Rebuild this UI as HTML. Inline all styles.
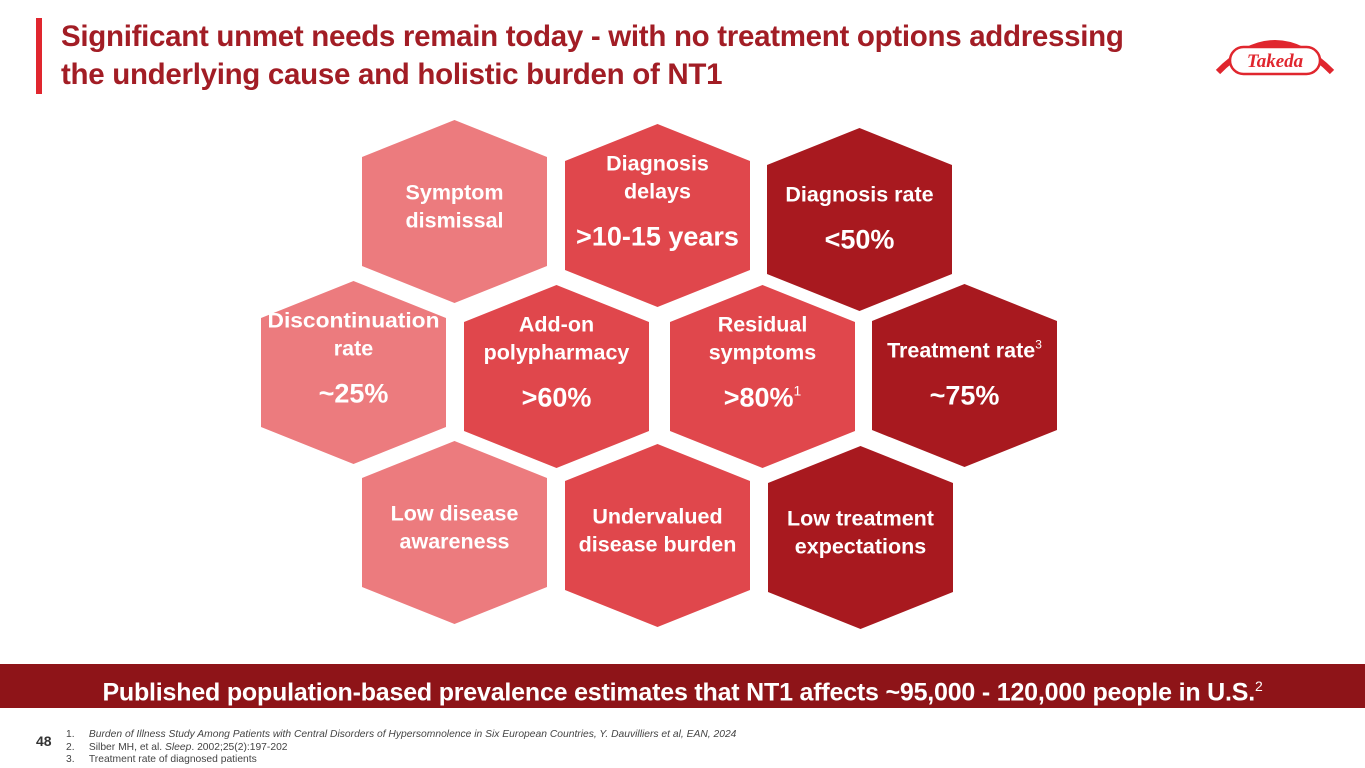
<!DOCTYPE html>
<html><head><meta charset="utf-8"><style>
body{margin:0;width:1365px;height:768px;background:#fff;font-family:"Liberation Sans",sans-serif;overflow:hidden;position:relative}
.t{position:absolute;left:61px;top:18px;font-size:29.5px;font-weight:bold;color:#A21D25;line-height:38px;letter-spacing:-0.3px;white-space:nowrap}
</style></head><body>
<div style="position:absolute;left:36px;top:18px;width:6px;height:76px;background:#E0262E"></div>
<div class="t">Significant unmet needs remain today - with no treatment options addressing<br>the underlying cause and holistic burden of NT1</div>
<svg style="position:absolute;left:1212px;top:28px" width="126" height="50" viewBox="0 0 126 50">
<path d="M6 44 Q63 -14 120 44" fill="none" stroke="#E0262E" stroke-width="6"/>
<rect x="18" y="19" width="90" height="27" rx="13.5" fill="#fff" stroke="#E0262E" stroke-width="2.5"/>
<text x="63" y="39" text-anchor="middle" font-family="Liberation Serif" font-style="italic" font-weight="bold" font-size="19" fill="#E0262E">Takeda</text>
</svg>
<svg id="hex" style="position:absolute;left:0;top:0" width="1365" height="660"></svg>
<div style="position:absolute;left:0;top:664px;width:1365px;height:44px;background:#8E1418;color:#fff;font-weight:bold;font-size:25px;line-height:44px;text-align:center;white-space:nowrap;letter-spacing:-0.2px">Published population-based prevalence estimates that NT1 affects ~95,000 - 120,000 people in U.S.<sup style="font-size:14px;font-weight:normal">2</sup></div>
<div style="position:absolute;left:36px;top:733px;font-size:14px;font-weight:bold;color:#333">48</div>
<div style="position:absolute;left:66px;top:729px;font-size:10.3px;line-height:12.5px;color:#444;white-space:nowrap">
<div>1.&nbsp;&nbsp;&nbsp;&nbsp;&nbsp;<i>Burden of Illness Study Among Patients with Central Disorders of Hypersomnolence in Six European Countries, Y. Dauvilliers et al, EAN, 2024</i></div>
<div>2.&nbsp;&nbsp;&nbsp;&nbsp;&nbsp;Silber MH, et al. <i>Sleep</i>. 2002;25(2):197-202</div>
<div>3.&nbsp;&nbsp;&nbsp;&nbsp;&nbsp;Treatment rate of diagnosed patients</div>
</div>
<script>
const L='#EC7B7E',M='#E0474C',D='#A8191F';
const hexes=[
{x:362,y:120,c:L,n:'symptom-dismissal',lines:['Symptom','dismissal'],v:''},
{x:565,y:124,c:M,n:'diagnosis-delays',lines:['Diagnosis','delays'],v:'>10-15 years'},
{x:767,y:128,c:D,n:'diagnosis-rate',lines:['Diagnosis rate'],v:'<50%'},
{x:261,y:281,c:L,n:'discontinuation-rate',lines:['Discontinuation','rate'],v:'~25%'},
{x:464,y:285,c:M,n:'add-on-polypharmacy',lines:['Add-on','polypharmacy'],v:'>60%'},
{x:670,y:285,c:M,n:'residual-symptoms',lines:['Residual','symptoms'],v:'>80%',vs:'1'},
{x:872,y:284,c:D,n:'treatment-rate',lines:['Treatment rate'],ls:'3',v:'~75%'},
{x:362,y:441,c:L,n:'low-disease-awareness',lines:['Low disease','awareness'],v:''},
{x:565,y:444,c:M,n:'undervalued-disease-burden',lines:['Undervalued','disease burden'],v:''},
{x:768,y:446,c:D,n:'low-treatment-expectations',lines:['Low treatment','expectations'],v:''}];
const svg=document.getElementById('hex'),NS='http://www.w3.org/2000/svg';
const W=185,H=183,S=37;
hexes.forEach(h=>{
 const g=document.createElementNS(NS,'g');
 
 
 const p=document.createElementNS(NS,'polygon');
 const x=h.x,y=h.y;
 p.setAttribute('points',`${x+W/2},${y} ${x+W},${y+S} ${x+W},${y+H-S} ${x+W/2},${y+H} ${x},${y+H-S} ${x},${y+S}`);
 p.setAttribute('fill',h.c);g.appendChild(p);
 const cx=x+W/2,cy=y+H/2;
 let ty;
 if(h.v){ty=cy-(h.lines.length==2?45:18);}else{ty=cy-(h.lines.length==2?12:0);}
 h.lines.forEach((l,i)=>{
  const t=document.createElementNS(NS,'text');
  t.setAttribute('x',cx);t.setAttribute('y',ty+i*28);
  t.setAttribute('text-anchor','middle');t.setAttribute('fill','#fff');
  t.setAttribute('font-size','21.5');t.setAttribute('font-weight','bold');
  t.setAttribute('font-family','Liberation Sans, sans-serif');
  t.textContent=l;
  if(l==='Discontinuation'){t.setAttribute('textLength','172');t.setAttribute('lengthAdjust','spacingAndGlyphs');}
  if(h.ls&&i==0){const s=document.createElementNS(NS,'tspan');s.setAttribute('font-size','12');s.setAttribute('font-weight','normal');s.setAttribute('dy','-9');s.textContent=h.ls;t.appendChild(s);}
  g.appendChild(t);
 });
 if(h.v){
  const t=document.createElementNS(NS,'text');
  t.setAttribute('x',cx);t.setAttribute('y',ty+h.lines.length*28+19);
  t.setAttribute('text-anchor','middle');t.setAttribute('fill','#fff');
  t.setAttribute('font-size','27');t.setAttribute('font-weight','bold');
  t.setAttribute('font-family','Liberation Sans, sans-serif');
  t.textContent=h.v;
  if(h.vs){const s=document.createElementNS(NS,'tspan');s.setAttribute('font-size','14');s.setAttribute('font-weight','normal');s.setAttribute('dy','-11');s.textContent=h.vs;t.appendChild(s);}
  g.appendChild(t);
 }
 svg.appendChild(g);
});
</script>
</body></html>
